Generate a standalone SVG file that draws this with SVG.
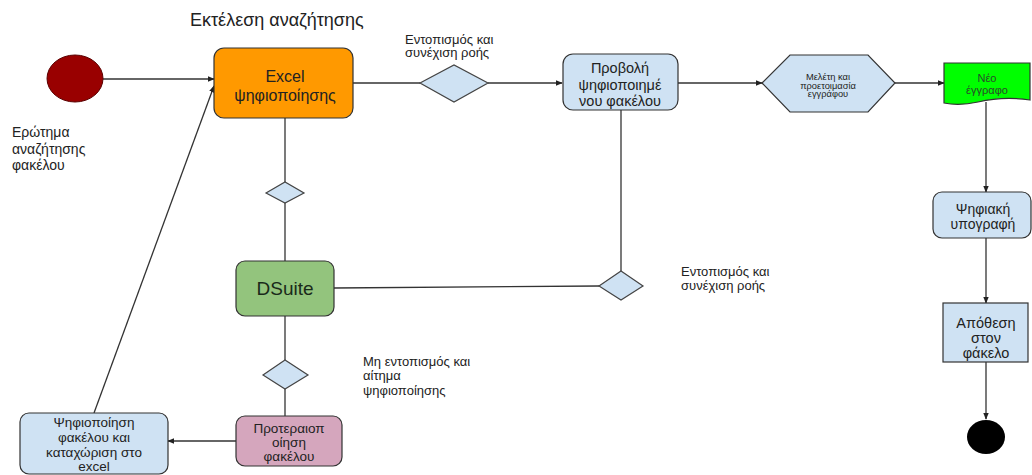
<svg xmlns="http://www.w3.org/2000/svg" width="1032" height="475" viewBox="0 0 1032 475">
<defs>
<marker id="arr" viewBox="0 0 10 10" refX="9" refY="5" markerWidth="7" markerHeight="7" orient="auto" markerUnits="userSpaceOnUse">
<path d="M0,1 L10,5 L0,9 z" fill="#222"/>
</marker>
<style>
text{font-family:"Liberation Sans",Arial,sans-serif;fill:#222}
.c{stroke:#333;stroke-width:1.3;fill:none}
.a{marker-end:url(#arr)}
.box{stroke:#333;stroke-width:1.2}
.blue{fill:#cfe2f3}
.dia{fill:#cfe2f3;stroke:#444;stroke-width:1.2}
.lbl{font-size:13px}
.m{text-anchor:middle}
</style>
</defs>
<rect width="1032" height="475" fill="#fff"/>
<text x="190" y="26" font-size="18" fill="#333">Εκτέλεση αναζήτησης</text>

<g id="connectors">
<line class="c a" x1="103" y1="79" x2="214" y2="79"/>
<line class="c" x1="353" y1="83" x2="420" y2="83"/>
<line class="c a" x1="488" y1="83" x2="562" y2="83"/>
<line class="c a" x1="678" y1="83" x2="762" y2="83"/>
<line class="c a" x1="895" y1="83" x2="944" y2="83"/>
<line class="c a" x1="986" y1="102" x2="986" y2="192"/>
<line class="c a" x1="986" y1="238" x2="986" y2="303"/>
<line class="c a" x1="986" y1="362" x2="986" y2="419"/>
<line class="c" x1="285" y1="118" x2="285" y2="182"/>
<line class="c" x1="285" y1="203" x2="285" y2="261"/>
<line class="c" x1="334" y1="288" x2="599" y2="286"/>
<line class="c" x1="621" y1="110" x2="621" y2="271"/>
<line class="c" x1="285" y1="316" x2="285" y2="360"/>
<line class="c" x1="285" y1="389" x2="285" y2="416"/>
<line class="c a" x1="236" y1="441" x2="168" y2="441"/>
<line class="c a" x1="94" y1="413" x2="214" y2="86"/>
</g>

<g id="start">
<ellipse cx="75" cy="78.5" rx="28" ry="23.5" fill="#990000" stroke="#5a0000" stroke-width="1"/>
<text x="12" y="137" font-size="14">Ερώτημα</text>
<text x="12" y="154" font-size="14">αναζήτησης</text>
<text x="12" y="170" font-size="14">φακέλου</text>
</g>

<g id="excel">
<rect class="box" x="214" y="48" width="139" height="70" rx="10" fill="#ff9900"/>
<text class="m" x="285" y="82" font-size="16">Excel</text>
<text class="m" x="285" y="101" font-size="16">ψηφιοποίησης</text>
</g>

<g id="d1">
<polygon class="dia" points="420,83 454,65 488,83 454,102"/>
<text class="lbl" x="405" y="44">Εντοπισμός και</text>
<text class="lbl" x="405" y="57">συνέχιση ροής</text>
</g>

<g id="provoli">
<rect class="box blue" x="563" y="54" width="115" height="56" rx="10"/>
<text class="m" x="620" y="73" font-size="14.5">Προβολή</text>
<text class="m" x="620" y="90" font-size="14.5">ψηφιοποιημέ</text>
<text class="m" x="620" y="106" font-size="14.5">νου φακέλου</text>
</g>

<g id="meleti">
<polygon class="box blue" points="762,83 790,55 868,55 895,83 868,112 790,112"/>
<text class="m" x="828" y="80" font-size="9.3">Μελέτη και</text>
<text class="m" x="828" y="88.5" font-size="9.3">προετοιμασία</text>
<text class="m" x="828" y="97" font-size="9.3">εγγράφου</text>
</g>

<g id="neo">
<path class="box" fill="#00ff00" d="M944,63 H1030 V100 C1010,97 995,98 978,102 C965,105 953,105 944,103 Z"/>
<text class="m" x="987" y="82" font-size="11" style="fill:#2a4a2a">Νέο</text>
<text class="m" x="987" y="94" font-size="11" style="fill:#2a4a2a">έγγραφο</text>
</g>

<g id="psifiaki">
<rect class="box blue" x="933" y="192" width="98" height="46" rx="9"/>
<text class="m" x="983" y="214" font-size="14">Ψηφιακή</text>
<text class="m" x="983" y="229" font-size="14">υπογραφή</text>
</g>

<g id="apothesi">
<rect class="box blue" x="943" y="303" width="85" height="59"/>
<text class="m" x="986" y="328" font-size="14.5">Απόθεση</text>
<text class="m" x="986" y="343" font-size="14.5">στον</text>
<text class="m" x="986" y="358" font-size="14.5">φάκελο</text>
</g>

<g id="end">
<ellipse cx="986" cy="437" rx="19" ry="17" fill="#000"/>
</g>

<g id="d2">
<polygon class="dia" points="266,193 285,182 304,193 285,203"/>
</g>

<g id="dsuite">
<rect class="box" x="236" y="261" width="98" height="55" rx="9" fill="#93c47d"/>
<text class="m" x="285" y="295" font-size="19" style="fill:#1a2a1a">DSuite</text>
</g>

<g id="d3">
<polygon class="dia" points="599,286 621,271 643,286 621,300"/>
<text class="lbl" x="681" y="276">Εντοπισμός και</text>
<text class="lbl" x="681" y="290">συνέχιση ροής</text>
</g>

<g id="d4">
<polygon class="dia" points="263,375 285,360 308,375 285,389"/>
<text class="lbl" x="363" y="366">Μη εντοπισμός και</text>
<text class="lbl" x="363" y="380">αίτημα</text>
<text class="lbl" x="363" y="395">ψηφιοποίησης</text>
</g>

<g id="proteraiop">
<rect class="box" x="236" y="416" width="106" height="50" rx="9" fill="#d5a6bd"/>
<text class="m" x="289" y="433" font-size="13.5">Προτεραιοπ</text>
<text class="m" x="289" y="447" font-size="13.5">οίηση</text>
<text class="m" x="289" y="461" font-size="13.5">φακέλου</text>
</g>

<g id="psifiopoiisi">
<rect class="box blue" x="20" y="413" width="148" height="61" rx="9"/>
<text class="m" x="94" y="427" font-size="13.5">Ψηφιοποίηση</text>
<text class="m" x="94" y="442" font-size="13.5">φακέλου και</text>
<text class="m" x="94" y="457" font-size="13.5">καταχώριση στο</text>
<text class="m" x="94" y="471" font-size="13.5">excel</text>
</g>
</svg>
